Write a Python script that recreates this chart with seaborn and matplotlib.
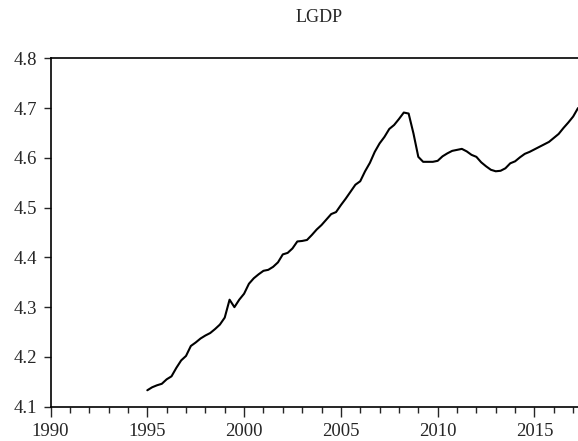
import numpy as np
import pandas as pd
import matplotlib
matplotlib.use("Agg")
import matplotlib.pyplot as plt
from matplotlib.ticker import MultipleLocator
import seaborn as sns

lgdp = [
    4.133, 4.139, 4.143, 4.146,   # 1995
    4.155, 4.161, 4.178, 4.193,   # 1996
    4.202, 4.222, 4.229, 4.237,   # 1997
    4.243, 4.248, 4.256, 4.265,   # 1998
    4.279, 4.315, 4.300, 4.315,   # 1999
    4.327, 4.347, 4.358, 4.366,   # 2000
    4.373, 4.375, 4.381, 4.390,   # 2001
    4.406, 4.409, 4.418, 4.432,   # 2002
    4.433, 4.435, 4.445, 4.456,   # 2003
    4.465, 4.476, 4.487, 4.491,   # 2004
    4.505, 4.518, 4.532, 4.546,   # 2005
    4.553, 4.573, 4.590, 4.612,   # 2006
    4.629, 4.642, 4.658, 4.666,   # 2007
    4.678, 4.691, 4.689, 4.649,   # 2008
    4.602, 4.592, 4.592, 4.592,   # 2009
    4.594, 4.603, 4.609, 4.614,   # 2010
    4.616, 4.618, 4.613, 4.606,   # 2011
    4.602, 4.591, 4.583, 4.576,   # 2012
    4.573, 4.574, 4.579, 4.589,   # 2013
    4.593, 4.601, 4.608, 4.612,   # 2014
    4.617, 4.622, 4.627, 4.632,   # 2015
    4.640, 4.648, 4.660, 4.671,   # 2016
    4.683, 4.700,                 # 2017
]
start_year = 1995
year_ticks = [1990, 1995, 2000, 2005, 2010, 2015]
y_ticks = [4.1, 4.2, 4.3, 4.4, 4.5, 4.6, 4.7, 4.8]

df = pd.DataFrame({"t": start_year + np.arange(len(lgdp)) / 4, "lgdp": lgdp})

sns.set_style("ticks")
plt.rcParams["font.family"] = ["Liberation Serif", "DejaVu Serif"]

fig = plt.figure(figsize=(5.78, 4.41), dpi=100)
ax = fig.add_axes([0.0874, 0.0778, 0.9126, 0.79])

sns.lineplot(data=df, x="t", y="lgdp", color="black", linewidth=1.5, ax=ax)

ax.set_xlim(1990, 2017.25)
ax.set_ylim(4.1, 4.8)
ax.set_xticks(year_ticks)
ax.set_xticklabels([str(y) for y in year_ticks])
ax.xaxis.set_minor_locator(MultipleLocator(1))
ax.set_yticks(y_ticks)
ax.set_yticklabels([f"{v:.1f}" for v in y_ticks])
ax.set_xlabel("")
ax.set_ylabel("")

ax.tick_params(axis="x", which="major", direction="out", length=7.2, width=1, labelsize=13.5, pad=4.5)
ax.tick_params(axis="x", which="minor", direction="out", length=4.3, width=1)
ax.tick_params(axis="y", direction="out", length=5, width=1, labelsize=13.5, pad=5)

for side in ["left", "bottom", "top"]:
    ax.spines[side].set_linewidth(1.2)
    ax.spines[side].set_color("black")
ax.spines["right"].set_visible(False)

fig.text(319 / 578, 1 - 17 / 441, "LGDP", ha="center", va="center", fontsize=13)

fig.savefig("out.png", dpi=100)
